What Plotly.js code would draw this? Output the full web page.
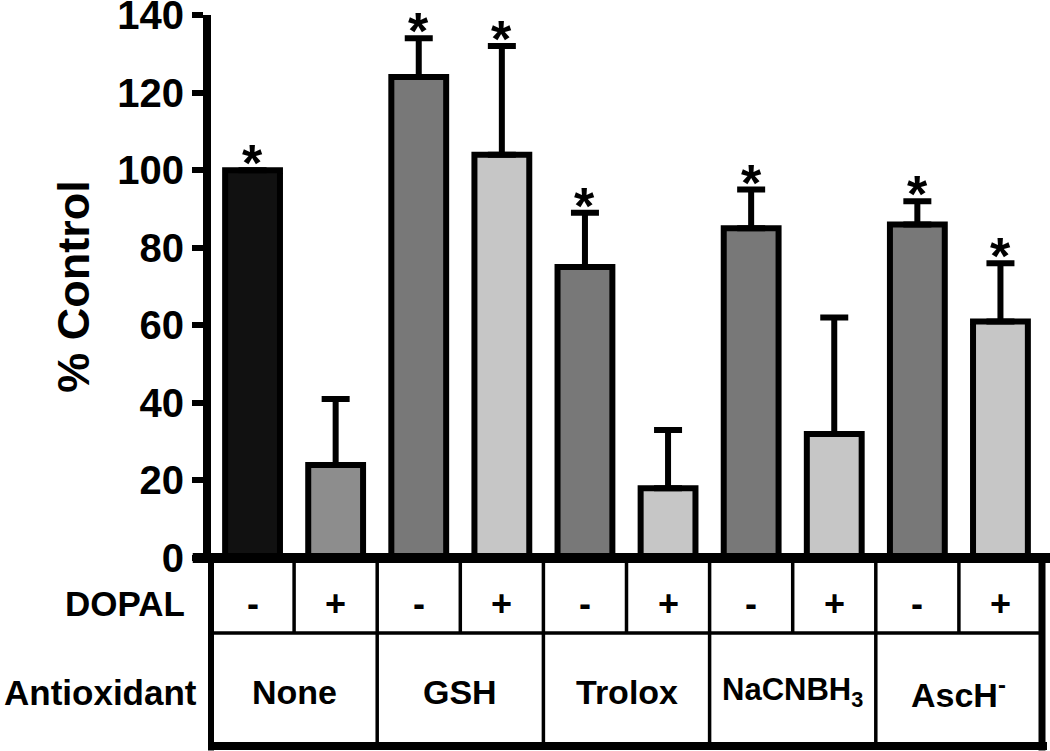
<!DOCTYPE html>
<html>
<head>
<meta charset="utf-8">
<script src="https://cdn.plot.ly/plotly-3.0.1.min.js"></script>
<style>
  html, body { margin: 0; padding: 0; background: #ffffff; }
  #chart { width: 1050px; height: 751px; }
</style>
</head>
<body>
<div id="chart"></div>
<script>
// ---- Data ----
var categories = ['None -', 'None +', 'GSH -', 'GSH +', 'Trolox -', 'Trolox +',
                  'NaCNBH3 -', 'NaCNBH3 +', 'AscH -', 'AscH +'];
var dopalSigns = ['-', '+', '-', '+', '-', '+', '-', '+', '-', '+'];
var antioxidantLabels = ['None', 'GSH', 'Trolox', 'NaCNBH<sub>3</sub>', 'AscH<sup>-</sup>'];
var percentControl = [100, 24, 124, 104, 75, 18, 85, 32, 86, 61];
var semUpper = [0, 17, 10, 28, 14, 15, 10, 30, 6, 15];
var significant = [true, false, true, true, true, false, true, false, true, true];
var barColors = ['#111111', '#8d8d8d', '#787878', '#c6c6c6', '#787878', '#c6c6c6',
                 '#787878', '#c6c6c6', '#787878', '#c6c6c6'];
var yTickVals = [0, 20, 40, 60, 80, 100, 120, 140];
var yTickText = ['0', '20', '40', '60', '80', '100', '120', '140'];

// ---- Layout geometry ----
var W = 1050, H = 751;
var M = {l: 211, r: 8, t: 15, b: 5};
var plotH = H - M.t - M.b;
function pyToPaper(py) { return (H - M.b - py) / plotH; }
var yDomainBottom = pyToPaper(558);      // y = 0 line
var rowSplit = pyToPaper(633);           // between DOPAL row and Antioxidant row
var dopalTextY = pyToPaper(603);
var antiTextY = pyToPaper(692);

var FONT = 'Liberation Sans, Arial, Helvetica, sans-serif';
var n = categories.length;

var barTrace = {
  type: 'bar',
  x: categories,
  y: percentControl,
  marker: {color: barColors, line: {color: '#000000', width: 6}},
  error_y: {
    type: 'data', symmetric: false,
    array: semUpper,
    arrayminus: semUpper.map(function () { return 0; }),
    color: '#000000', thickness: 6, width: 14, visible: true
  },
  hoverinfo: 'x+y',
  showlegend: false
};

var shapes = [];
var annotations = [];

// thick baseline (top of table) across the whole width
shapes.push({type: 'line', xref: 'paper', yref: 'paper',
  x0: -0.022, x1: 1.03, y0: yDomainBottom, y1: yDomainBottom,
  line: {color: '#000', width: 10}});
// table outer borders
shapes.push({type: 'line', xref: 'x domain', yref: 'paper', x0: 0, x1: 0,
  y0: yDomainBottom, y1: -0.006, line: {color: '#000', width: 6}});
shapes.push({type: 'line', xref: 'x domain', yref: 'paper', x0: 1, x1: 1,
  y0: yDomainBottom, y1: -0.006, line: {color: '#000', width: 7}});
shapes.push({type: 'line', xref: 'x domain', yref: 'paper', x0: 0, x1: 1.006,
  y0: 0, y1: 0, line: {color: '#000', width: 8}});
// row separator
shapes.push({type: 'line', xref: 'x domain', yref: 'paper', x0: 0, x1: 1,
  y0: rowSplit, y1: rowSplit, line: {color: '#000', width: 3.5}});
// column separators
for (var i = 1; i < n; i++) {
  var xd = i / n;
  shapes.push({type: 'line', xref: 'x domain', yref: 'paper', x0: xd, x1: xd,
    y0: yDomainBottom, y1: rowSplit, line: {color: '#000', width: 3.5}});
  if (i % 2 === 0) {
    shapes.push({type: 'line', xref: 'x domain', yref: 'paper', x0: xd, x1: xd,
      y0: rowSplit, y1: 0, line: {color: '#000', width: 3.5}});
  }
}

// asterisks
for (var k = 0; k < n; k++) {
  if (significant[k]) {
    annotations.push({xref: 'x', yref: 'y', x: categories[k], y: percentControl[k] + semUpper[k],
      text: '*', showarrow: false, yanchor: 'bottom', xanchor: 'center', yshift: -24,
      font: {family: FONT, size: 52, color: '#000', weight: 'bold'}});
  }
  // DOPAL signs
  annotations.push({xref: 'x', yref: 'paper', x: categories[k], y: dopalTextY,
    text: dopalSigns[k], showarrow: false, yanchor: 'middle', xanchor: 'center',
    font: {family: FONT, size: 36, color: '#000', weight: 'bold'}});
}
// antioxidant labels (each spans two columns)
for (var g = 0; g < antioxidantLabels.length; g++) {
  var isSmall = antioxidantLabels[g].indexOf('<sub>') >= 0;
  annotations.push({xref: 'x domain', yref: 'paper', x: (2 * g + 1) / n, y: antiTextY,
    text: antioxidantLabels[g], showarrow: false, yanchor: 'middle', xanchor: 'center',
    font: {family: FONT, size: isSmall ? 31 : 34, color: '#000', weight: 'bold'}});
}
// row headers
annotations.push({xref: 'paper', yref: 'paper', x: -0.029, y: dopalTextY, text: 'DOPAL',
  showarrow: false, xanchor: 'right', yanchor: 'middle',
  font: {family: FONT, size: 35, color: '#000', weight: 'bold'}});
annotations.push({xref: 'paper', yref: 'paper', x: -0.015, y: antiTextY, text: 'Antioxidant',
  showarrow: false, xanchor: 'right', yanchor: 'middle',
  font: {family: FONT, size: 35, color: '#000', weight: 'bold'}});

var layout = {
  width: W, height: H,
  margin: M,
  paper_bgcolor: '#ffffff', plot_bgcolor: '#ffffff',
  bargap: 0.34,
  showlegend: false,
  xaxis: {
    type: 'category', range: [-0.5, n - 0.5],
    showline: false, showticklabels: false, ticks: '', showgrid: false, zeroline: false,
    fixedrange: true
  },
  yaxis: {
    domain: [yDomainBottom, 1],
    range: [0, 140],
    tickvals: yTickVals, ticktext: yTickText,
    ticks: 'outside', ticklen: 11, tickwidth: 6, tickcolor: '#000',
    ticklabeloverflow: 'allow',
    showline: true, linewidth: 8, linecolor: '#000',
    showgrid: false, zeroline: false,
    tickfont: {family: FONT, size: 40, color: '#000', weight: 'bold'},
    title: {text: '% Control', standoff: 17,
      font: {family: FONT, size: 45, color: '#000', weight: 'bold'}},
    fixedrange: true
  },
  shapes: shapes,
  annotations: annotations
};

Plotly.newPlot('chart', [barTrace], layout, {displayModeBar: false, staticPlot: true});
</script>
</body>
</html>
